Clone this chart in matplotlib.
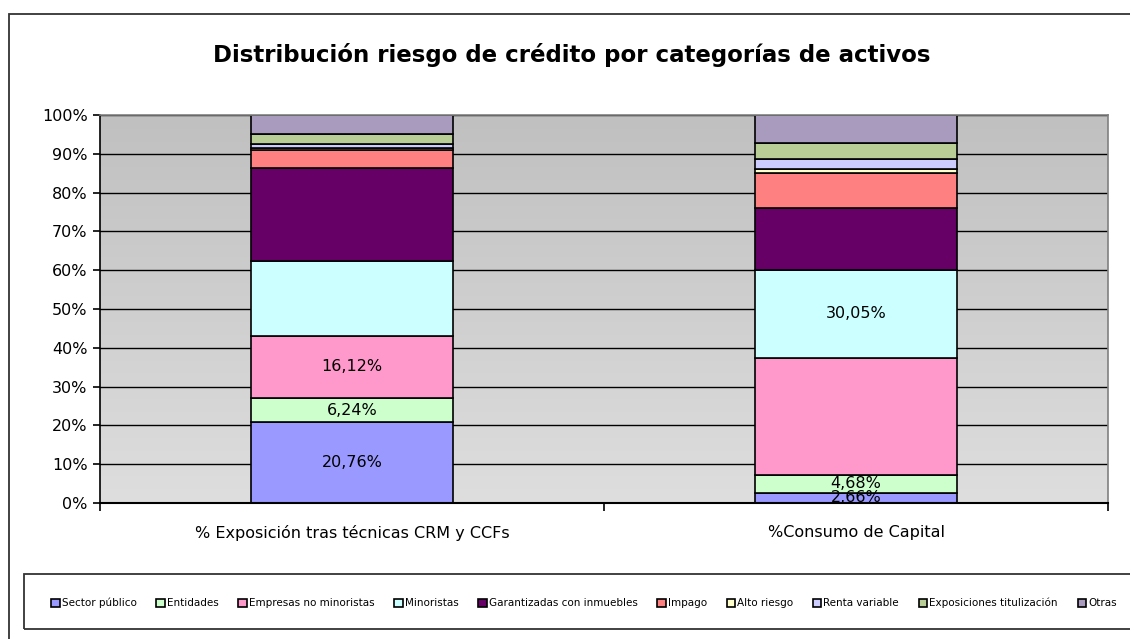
import matplotlib
matplotlib.use("Agg")
import matplotlib.pyplot as plt
import numpy as np
from matplotlib.patches import Rectangle

categories = ["% Exposición tras técnicas CRM y CCFs", "%Consumo de Capital"]
series_names = ["Sector público", "Entidades", "Empresas no minoristas", "Minoristas",
                "Garantizadas con inmuebles", "Impago", "Alto riesgo", "Renta variable",
                "Exposiciones titulización", "Otras"]
exposicion = [20.76, 6.24, 16.12, 19.3, 24.0, 4.5, 0.6, 0.9, 2.8, 4.78]
consumo = [2.66, 4.68, 30.05, 22.66, 16.05, 8.9, 1.0, 2.6, 4.1, 7.3]
colors = ["#9999FF", "#CCFFCC", "#FF99CC", "#CCFFFF", "#660066", "#FF8080",
          "#FFFFCC", "#CCCCFF", "#B9CD96", "#A99BBD"]
# data labels shown: (bar index, series index, text)
labels = [(0, 0, "20,76%"), (0, 1, "6,24%"), (0, 2, "16,12%"),
          (1, 0, "2,66%"), (1, 1, "4,68%"), (1, 3, "30,05%")]
yticks = [0, 10, 20, 30, 40, 50, 60, 70, 80, 90, 100]
ytick_labels = [f"{v}%" for v in yticks]

W, H = 1130, 639
fig = plt.figure(figsize=(W / 100, H / 100), dpi=100)
plt.rcParams['font.family'] = ['DejaVu Sans']

# outer chart border
fig.patches.append(Rectangle((9 / W, -0.02), 1.05, (H - 14) / H + 0.02, transform=fig.transFigure,
                             fill=False, edgecolor="#333333", linewidth=1.3, zorder=0))
# legend box
fig.patches.append(Rectangle((24 / W, (H - 629) / H), 1.05, (629 - 574) / H, transform=fig.transFigure,
                             fill=False, edgecolor="#333333", linewidth=1.3, zorder=0))

ax = fig.add_axes([100 / W, (H - 503) / H, (1108 - 100) / W, (503 - 115) / H])
ax.set_xlim(-0.5, 1.5)
ax.set_ylim(0, 100)

# gradient background
grad = np.linspace(0, 1, 256).reshape(-1, 1)
ax.imshow(grad, extent=(-0.5, 1.5, 0, 100), aspect="auto", origin="lower",
          cmap=matplotlib.colors.LinearSegmentedColormap.from_list("g", ["#DEDEDE", "#C0C0C0"]),
          zorder=0)

for y in yticks[1:]:
    ax.axhline(y, color="black", linewidth=1.0, zorder=1)

data = [exposicion, consumo]
x = np.arange(len(categories))
bottoms = np.zeros(len(categories))
for i, name in enumerate(series_names):
    vals = np.array([d[i] for d in data])
    ax.bar(x, vals, width=0.4, bottom=bottoms, color=colors[i], edgecolor="black",
           linewidth=1.2, label=name, zorder=2)
    bottoms += vals

for b, s, txt in labels:
    d = data[b]
    y0 = sum(d[:s])
    ax.text(x[b], y0 + d[s] / 2, txt, ha="center", va="center", fontsize=11.5, zorder=3)

ax.set_yticks(yticks)
ax.set_yticklabels(ytick_labels, fontsize=11.5)
ax.set_xticks([-0.5, 0.5, 1.5])
ax.set_xticklabels([])
ax.set_xticks(x, minor=True)
ax.set_xticklabels(categories, minor=True, fontsize=11.5)
ax.tick_params(axis="x", which="minor", length=0, pad=16)
ax.tick_params(axis="x", which="major", length=6, width=1.2, direction="out")
ax.tick_params(axis="y", length=5, width=1.2, direction="out", pad=4)

for side in ["top", "right"]:
    ax.spines[side].set_color("#808080")
    ax.spines[side].set_linewidth(1.2)
ax.spines["left"].set_linewidth(1.2)
ax.spines["bottom"].set_linewidth(1.5)

fig.text(572 / W, (H - 55) / H, "Distribución riesgo de crédito por categorías de activos",
         ha="center", va="center", fontsize=16.5, fontweight="bold")

handles, labs = ax.get_legend_handles_labels()
fig.legend(handles, labs, loc="center", bbox_to_anchor=(584 / W, (H - 603) / H), ncol=10,
           frameon=False, fontsize=7.5, handlelength=0.8, handleheight=0.8, handletextpad=0.2,
           columnspacing=1.9)

fig.savefig("out.png", dpi=100)
